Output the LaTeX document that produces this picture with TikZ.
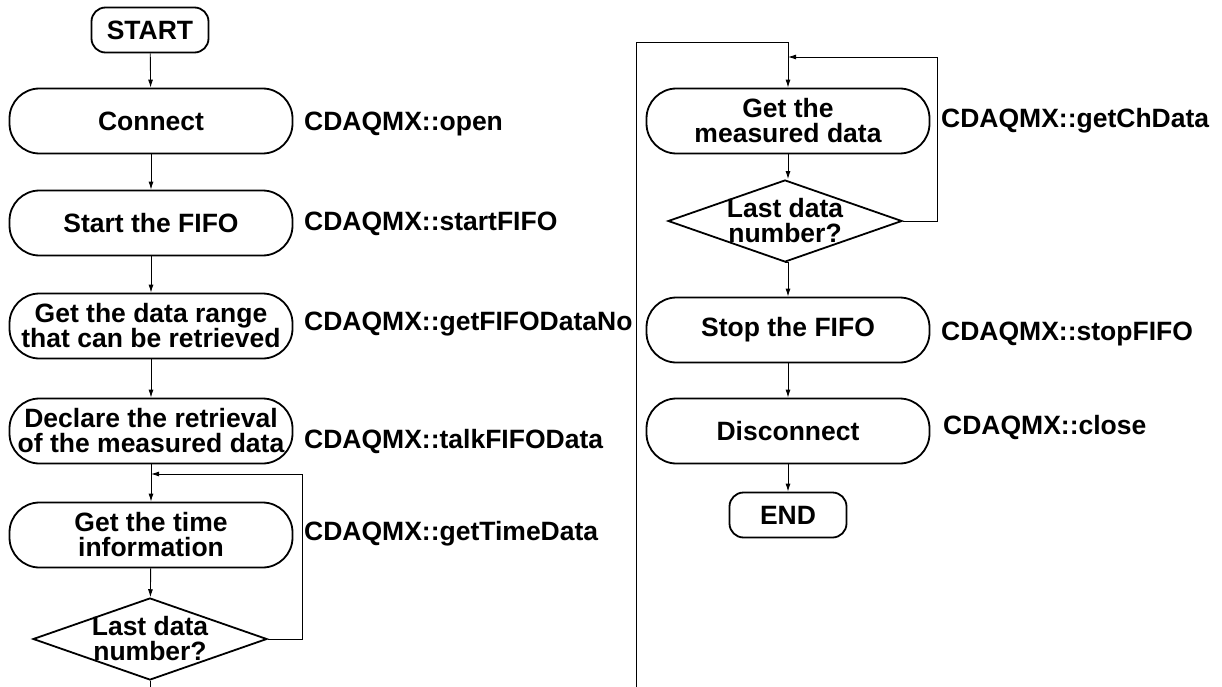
\documentclass[tikz,border=0pt]{standalone}
\usepackage{fontspec}
\setmainfont{Liberation Sans}
\usetikzlibrary{shapes.geometric}
\usetikzlibrary{arrows.meta}

\tikzset{
  proc/.style={draw, line width=1.8pt, rounded corners=30pt, minimum width=283pt, minimum height=65pt, inner sep=0pt, align=center},
  term/.style={draw, line width=1.8pt, rounded corners=14pt, minimum width=117pt, minimum height=45pt, inner sep=0pt},
  decide/.style={draw, diamond, line width=1.8pt, minimum width=234pt, minimum height=82pt, inner sep=0pt},
  flow/.style={line width=0.9pt, -{Latex[length=8pt,width=5pt]}},
  api/.style={anchor=base west, inner sep=0pt},
}

\begin{document}
\begin{tikzpicture}[x=1pt, y=-1pt, font=\fontsize{26.5}{25}\selectfont\bfseries]
        \useasboundingbox (0,0) rectangle (1222,687);

        % left column
        \node[term] (start) at (150,30) {START};
        \node[proc] (connect) at (151,121) {Connect};
        \node[proc] (startfifo) at (151,223) {Start the FIFO};
        \node[proc] (range) at (151,326) {Get the data range\\that can be retrieved};
        \node[proc] (declare) at (151,431) {Declare the retrieval\\of the measured data};
        \node[proc] (timeinfo) at (151,535) {Get the time\\information};
        \node[decide, label={[align=center]center:{Last data\\number?}}] (check1) at (150,639) {};

        % right column
        \node[proc] (chdata) at (788,121) {Get the\\measured data};
        \node[decide, label={[align=center]center:{Last data\\number?}}] (check2) at (785,221) {};
        \node[proc] (stopfifo) at (788,330) {Stop the FIFO};
        \node[proc] (disconnect) at (788,431) {Disconnect};
        \node[term] (end) at (788,515) {END};

        % function names
        \node[api] (lopen) at (304,131) {CDAQMX::open};
        \node[api] (lstart) at (304,230) {CDAQMX::startFIFO};
        \node[api] (lrange) at (304,330) {CDAQMX::getFIFODataNo};
        \node[api] (ltalk) at (304,448) {CDAQMX::talkFIFOData};
        \node[api] (ltime) at (304,540) {CDAQMX::getTimeData};
        \node[api] (lch) at (941,128) {CDAQMX::getChData};
        \node[api] (lstop) at (941,340) {CDAQMX::stopFIFO};
        \node[api] (lclose) at (943,434) {CDAQMX::close};

        \coordinate (join1) at (151,474);
        \coordinate (out1) at (150,687);
        \coordinate (in2) at (636,687);
        \coordinate (top2) at (788,42);
        \coordinate (join2) at (788,57);

        \draw[flow] (start) -- (connect);
        \draw[flow] (connect) -- (startfifo);
        \draw[flow] (startfifo) -- (range);
        \draw[flow] (range) -- (declare);
        \draw[flow] (declare) -- (timeinfo);
        \draw[flow] (timeinfo) -- (check1);
        \draw[flow] (check1.east) -- ++(35,0) |- (join1);
        \draw[line width=0.9pt] (check1.south) -- (out1);

        \draw[flow] (in2) |- (top2) -- (chdata);
        \draw[flow] (chdata.south) -- (chdata.south |- check2.north);
        \draw[flow] (check2.east) -- ++(35,0) |- (join2);
        \draw[flow] (check2.south) -- (check2.south -| stopfifo.north) -- (stopfifo);
        \draw[flow] (stopfifo) -- (disconnect);
        \draw[flow] (disconnect) -- (end);
\end{tikzpicture}
\end{document}
